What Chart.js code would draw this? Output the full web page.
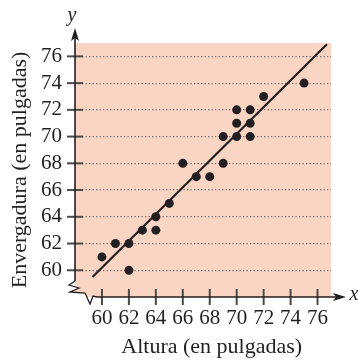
<!DOCTYPE html>
<html>
<head>
<meta charset="utf-8">
<script src="https://cdn.jsdelivr.net/npm/chart.js@4"></script>
<style>
  html, body { margin: 0; padding: 0; background: #fff; }
  #wrap { width: 358px; height: 360px; }
</style>
</head>
<body>
<div id="wrap"><canvas id="chart" width="358" height="360"></canvas></div>
<script>
// Altura vs envergadura (pulgadas)
const heights = [60, 61, 62, 62, 63, 64, 64, 65, 66, 67, 68, 69, 69, 70, 70, 70, 71, 71, 71, 72, 75];
const spans   = [61, 62, 62, 60, 63, 64, 63, 65, 68, 67, 67, 68, 70, 70, 71, 72, 70, 71, 72, 73, 74];

// fitted line end points
const fitX = [59.3, 76.7];
const fitY = [59.5, 76.9];

const xTicks = [60, 62, 64, 66, 68, 70, 72, 74, 76];
const yTicks = [60, 62, 64, 66, 68, 70, 72, 74, 76];

const xTitle = 'Altura (en pulgadas)';
const yTitle = 'Envergadura (en pulgadas)';

const INK = '#231f20';
const SHADE = '#fbd5c4';
const SERIF = '"Liberation Serif", "Times New Roman", serif';

// background, axes with arrows, break mark, tick marks
const decor = {
    id: 'decor',
    beforeDraw(chart) {
        const { ctx, chartArea: a } = chart;
        ctx.save();
        ctx.fillStyle = SHADE;
        ctx.fillRect(a.left, a.top, a.right - a.left, a.bottom - a.top);
        ctx.restore();
    },
    afterDraw(chart) {
        const { ctx, chartArea: a, scales } = chart;
        const L = a.left, B = a.bottom;
        ctx.save();

        // break mark in the corner
        const zig = [[0, -16], [-6, -12], [4, -9], [-5, -5], [10, -4], [15, 7], [18, -1], [22, 0]];
        ctx.beginPath();
        zig.forEach(([dx, dy], i) => i ? ctx.lineTo(L + dx, B + dy) : ctx.moveTo(L + dx, B + dy));
        ctx.lineTo(L + 22, B + 12);
        ctx.lineTo(L - 10, B + 12);
        ctx.lineTo(L - 10, B - 16);
        ctx.closePath();
        ctx.fillStyle = '#fff';
        ctx.fill();

        ctx.beginPath();
        zig.forEach(([dx, dy], i) => i ? ctx.lineTo(L + dx, B + dy) : ctx.moveTo(L + dx, B + dy));
        ctx.strokeStyle = INK;
        ctx.lineWidth = 1.3;
        ctx.stroke();

        // tick marks crossing the axes
        ctx.strokeStyle = '#4a4a4a';
        ctx.lineWidth = 2;
        yTicks.forEach(v => {
            const py = scales.y.getPixelForValue(v);
            ctx.beginPath();
            ctx.moveTo(L - 8, py);
            ctx.lineTo(L + 8, py);
            ctx.stroke();
        });
        xTicks.forEach(v => {
            const px = scales.x.getPixelForValue(v);
            ctx.beginPath();
            ctx.moveTo(px, B - 8);
            ctx.lineTo(px, B + 8);
            ctx.stroke();
        });

        // axis lines
        ctx.strokeStyle = INK;
        ctx.lineWidth = 1.6;
        ctx.beginPath();
        ctx.moveTo(L, B - 16);
        ctx.lineTo(L, a.top - 6);
        ctx.moveTo(L + 22, B);
        ctx.lineTo(a.right + 6, B);
        ctx.stroke();

        // arrow heads
        ctx.fillStyle = INK;
        ctx.beginPath();
        ctx.moveTo(L, a.top - 15);
        ctx.lineTo(L - 4, a.top - 2);
        ctx.lineTo(L, a.top - 5);
        ctx.lineTo(L + 4, a.top - 2);
        ctx.closePath();
        ctx.fill();
        ctx.beginPath();
        ctx.moveTo(a.right + 15, B);
        ctx.lineTo(a.right + 2, B - 4);
        ctx.lineTo(a.right + 5, B);
        ctx.lineTo(a.right + 2, B + 4);
        ctx.closePath();
        ctx.fill();

        // axis letters
        ctx.font = 'italic 20px ' + SERIF;
        ctx.textAlign = 'center';
        ctx.textBaseline = 'middle';
        ctx.fillText('y', L - 3, a.top - 27);
        ctx.fillText('x', a.right + 23, B - 2);

        // x axis title, centred on the tick range
        const cx = (scales.x.getPixelForValue(xTicks[0]) + scales.x.getPixelForValue(xTicks[xTicks.length - 1])) / 2;
        ctx.font = '22px ' + SERIF;
        ctx.fillText(xTitle, cx + 2, 347);

        ctx.restore();
    }
};

const ctx = document.getElementById('chart').getContext('2d');
new Chart(ctx, {
    type: 'scatter',
    data: {
        datasets: [
            {
                label: 'datos',
                data: heights.map((h, i) => ({ x: h, y: spans[i] })),
                pointRadius: 4.5,
                pointHoverRadius: 4.5,
                pointBackgroundColor: INK,
                pointBorderWidth: 0,
                showLine: false
            },
            {
                label: 'recta',
                data: fitX.map((x, i) => ({ x: x, y: fitY[i] })),
                showLine: true,
                borderColor: INK,
                borderWidth: 2.2,
                pointRadius: 0
            }
        ]
    },
    options: {
        responsive: false,
        animation: false,
        layout: { padding: { left: 0, right: 27, top: 43, bottom: 0 } },
        plugins: {
            legend: { display: false },
            tooltip: { enabled: false }
        },
        scales: {
            x: {
                type: 'linear',
                min: 58,
                max: 77,
                afterBuildTicks: s => { s.ticks = xTicks.map(v => ({ value: v })); },
                afterFit: s => { s.height = 63; },
                grid: { display: false, drawTicks: false },
                border: { display: false },
                ticks: {
                    color: INK,
                    padding: 9,
                    maxRotation: 0,
                    autoSkip: false,
                    font: { family: SERIF, size: 21 }
                }
            },
            y: {
                type: 'linear',
                min: 58,
                max: 77,
                afterBuildTicks: s => { s.ticks = yTicks.map(v => ({ value: v })); },
                afterFit: s => { s.width = 75; },
                grid: {
                    color: '#6e6e6e',
                    lineWidth: 1.2,
                    drawTicks: false
                },
                border: { display: false, dash: [1.3, 2.2] },
                ticks: {
                    color: INK,
                    padding: 13,
                    autoSkip: false,
                    font: { family: SERIF, size: 21 }
                },
                title: {
                    display: true,
                    text: yTitle,
                    color: INK,
                    padding: { top: 7, bottom: 0 },
                    font: { family: SERIF, size: 22 }
                }
            }
        }
    },
    plugins: [decor]
});
</script>
</body>
</html>
